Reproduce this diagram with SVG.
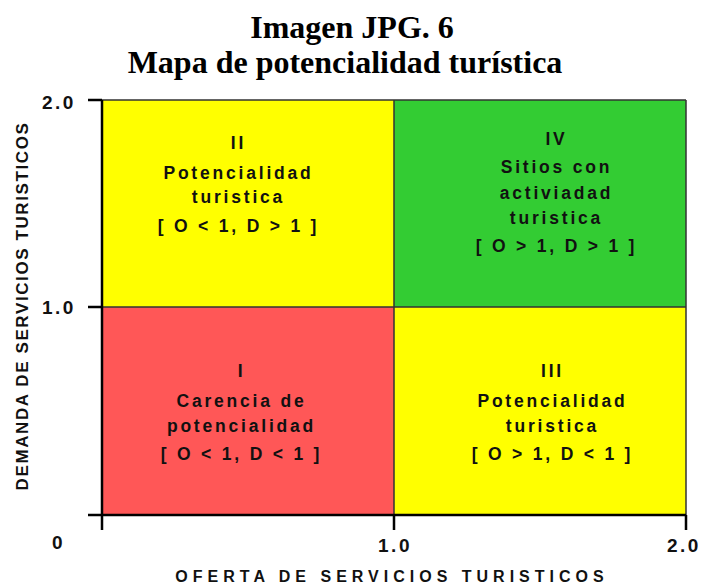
<svg xmlns="http://www.w3.org/2000/svg" width="703" height="587" viewBox="0 0 703 587">
<style>
.title{font-family:"Liberation Serif","Times New Roman",serif;font-weight:bold;font-size:32px;text-anchor:middle;fill:#000}
.q{font-family:"Liberation Sans",Arial,sans-serif;font-weight:bold;font-size:17.5px;letter-spacing:2.8px;text-anchor:middle;fill:#111}
.ax{font-family:"Liberation Sans",Arial,sans-serif;font-weight:bold;font-size:19px;letter-spacing:2.5px;fill:#111}
.lab{font-family:"Liberation Sans",Arial,sans-serif;font-weight:bold;font-size:16px;letter-spacing:5px;text-anchor:middle;fill:#111}
.div{stroke:#333;stroke-width:1.5;fill:none}
.axis{stroke:#000;stroke-width:2.5;fill:none}
</style>
<rect width="703" height="587" fill="#fff"/>
<text class="title" x="352" y="38">Imagen JPG. 6</text>
<text class="title" x="345" y="73">Mapa de potencialidad turística</text>
<g id="q2"><rect x="102" y="100" width="292" height="207" fill="#ffff00"/>
<text class="q" x="238.5" y="149">II</text>
<text class="q" x="238.5" y="179">Potencialidad</text>
<text class="q" x="238.5" y="203">turistica</text>
<text class="q" x="238.5" y="232">[ O &lt; 1, D &gt; 1 ]</text></g>
<g id="q4"><rect x="394" y="100" width="292" height="207" fill="#33cc33"/>
<text class="q" x="556.5" y="145">IV</text>
<text class="q" x="556.5" y="173">Sitios con</text>
<text class="q" x="556.5" y="199">activiadad</text>
<text class="q" x="556.5" y="224">turistica</text>
<text class="q" x="556.5" y="252">[ O &gt; 1, D &gt; 1 ]</text></g>
<g id="q1"><rect x="102" y="307" width="292" height="208" fill="#ff5757"/>
<text class="q" x="241.5" y="377">I</text>
<text class="q" x="241.5" y="407">Carencia de</text>
<text class="q" x="241.5" y="432">potencialidad</text>
<text class="q" x="241.5" y="460">[ O &lt; 1,  D &lt;  1 ]</text></g>
<g id="q3"><rect x="394" y="307" width="292" height="208" fill="#ffff00"/>
<text class="q" x="552.5" y="377">III</text>
<text class="q" x="552.5" y="407">Potencialidad</text>
<text class="q" x="552.5" y="432">turistica</text>
<text class="q" x="552.5" y="460">[ O  &gt; 1, D  &lt;  1 ]</text></g>
<g id="connectors">
<path class="div" d="M394 100V515M102 307H686M686 100V515M102 100H686"/>
<path class="axis" d="M102 100V530M88 515H686M88 100H102M88 307H102M394 515V530M686 515V530"/>
</g>
<text class="ax" x="42" y="109">2.0</text>
<text class="ax" x="42" y="314">1.0</text>
<text class="ax" x="52" y="549">0</text>
<text class="ax" x="395" y="552" text-anchor="middle">1.0</text>
<text class="ax" x="667" y="552">2.0</text>
<text class="lab" x="392" y="582">OFERTA DE SERVICIOS TURISTICOS</text>
<text class="lab" transform="translate(28 306) rotate(-90)" style="font-size:17px;letter-spacing:1.6px">DEMANDA DE SERVICIOS TURISTICOS</text>
</svg>
